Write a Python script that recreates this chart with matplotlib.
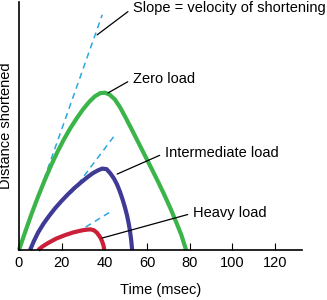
import matplotlib
matplotlib.use("Agg")
import matplotlib.pyplot as plt

plt.rcParams['font.family'] = ['Liberation Sans', 'DejaVu Sans']

# curves (time in msec, distance in arbitrary units)
zero_t = [0.0, 3.0, 6.0, 9.0, 12.0, 15.0, 18.0, 21.0, 24.0, 27.0, 30.0, 33.0, 35.5, 38.0, 40.3,
          42.5, 45.0, 47.5, 50.0, 53.0, 56.0, 59.0, 62.0, 65.0, 68.0, 71.0, 74.0, 76.0, 78.3]
zero_d = [0.0, 7.5, 14.8, 21.6, 28.0, 34.0, 39.5, 44.5, 49.0, 53.0, 56.7, 59.8, 61.9, 63.2, 63.4,
          62.6, 60.6, 57.3, 53.3, 48.3, 43.2, 38.1, 33.0, 27.8, 22.4, 16.7, 10.5, 6.2, 0.0]

inter_t = [5.2, 7.0, 9.0, 11.5, 14.0, 17.0, 20.0, 23.0, 26.0, 29.0, 32.0, 34.5, 37.0, 39.0, 41.0,
           42.7, 44.5, 46.0, 47.3, 48.6, 49.7, 50.6, 51.4, 52.0, 52.6, 53.0]
inter_d = [0.0, 3.6, 7.1, 10.6, 13.6, 16.9, 19.8, 22.5, 25.0, 27.2, 29.3, 30.9, 32.1, 32.8, 32.6,
           31.0, 28.8, 26.3, 23.5, 20.2, 17.0, 14.0, 10.7, 7.7, 3.8, 0.0]

heavy_t = [9.0, 11.0, 13.6, 17.5, 21.6, 25.5, 29.5, 31.8, 33.5, 35.0, 36.5, 38.0, 39.0, 39.6, 40.0]
heavy_d = [0.0, 1.4, 2.8, 4.6, 6.0, 7.1, 7.9, 8.2, 8.3, 8.0, 7.0, 5.2, 3.4, 1.7, 0.0]

# tangent lines (slope = velocity of shortening)
tan_zero_t, tan_zero_d = [0.0, 39.0], [0.0, 94.8]
tan_inter_t, tan_inter_d = [24.5, 45.0], [23.0, 46.4]
tan_heavy_t, tan_heavy_d = [27.0, 42.7], [7.0, 15.3]

xticks = [0, 20, 40, 60, 80, 100, 120]

green = '#3bb44a'
blue = '#3e3a96'
red = '#cc1f3a'
cyan = '#2aa8e0'

fig = plt.figure(figsize=(3.27, 3.0), dpi=100)
ax = fig.add_axes([0.058, 0.1667, 0.865, 0.827])

for t, d in [(tan_zero_t, tan_zero_d), (tan_inter_t, tan_inter_d), (tan_heavy_t, tan_heavy_d)]:
    ax.plot(t, d, color=cyan, lw=1.1, ls=(0, (4, 3)), zorder=1)

ax.plot(zero_t, zero_d, color=green, lw=3, solid_capstyle='butt', solid_joinstyle='round', zorder=2, clip_on=False)
ax.plot(inter_t, inter_d, color=blue, lw=3, solid_capstyle='butt', solid_joinstyle='round', zorder=2, clip_on=False)
ax.plot(heavy_t, heavy_d, color=red, lw=3, solid_capstyle='butt', solid_joinstyle='round', zorder=2, clip_on=False)

ap = dict(arrowstyle='-', color='black', lw=0.9, shrinkA=2, shrinkB=0, relpos=(0, 0.5))
fs = 10.5
ax.annotate('Slope = velocity of shortening', xy=(36.6, 86.7), xytext=(53.4, 97.6),
            ha='left', va='center', fontsize=fs, arrowprops=ap, annotation_clip=False)
ax.annotate('Zero load', xy=(41.7, 63.3), xytext=(53.4, 69.0),
            ha='left', va='center', fontsize=fs, arrowprops=ap)
ax.annotate('Intermediate load', xy=(46.0, 30.6), xytext=(68.4, 39.1),
            ha='left', va='center', fontsize=fs, arrowprops=ap)
ax.annotate('Heavy load', xy=(38.9, 4.8), xytext=(81.6, 14.9),
            ha='left', va='center', fontsize=fs, arrowprops=ap)

ax.set_xlim(0, 132.5)
ax.set_ylim(0, 100)
ax.set_xticks(xticks)
ax.set_yticks([])
ax.tick_params(axis='x', direction='in', length=5, width=0.8, labelsize=fs, pad=4)
for s in ['top', 'right']:
    ax.spines[s].set_visible(False)
for s in ['left', 'bottom']:
    ax.spines[s].set_linewidth(1.2)
ax.set_xlabel('Time (msec)', fontsize=fs, labelpad=10)
ax.set_ylabel('Distance shortened', fontsize=fs, labelpad=4)

fig.savefig('out.png', dpi=100)
